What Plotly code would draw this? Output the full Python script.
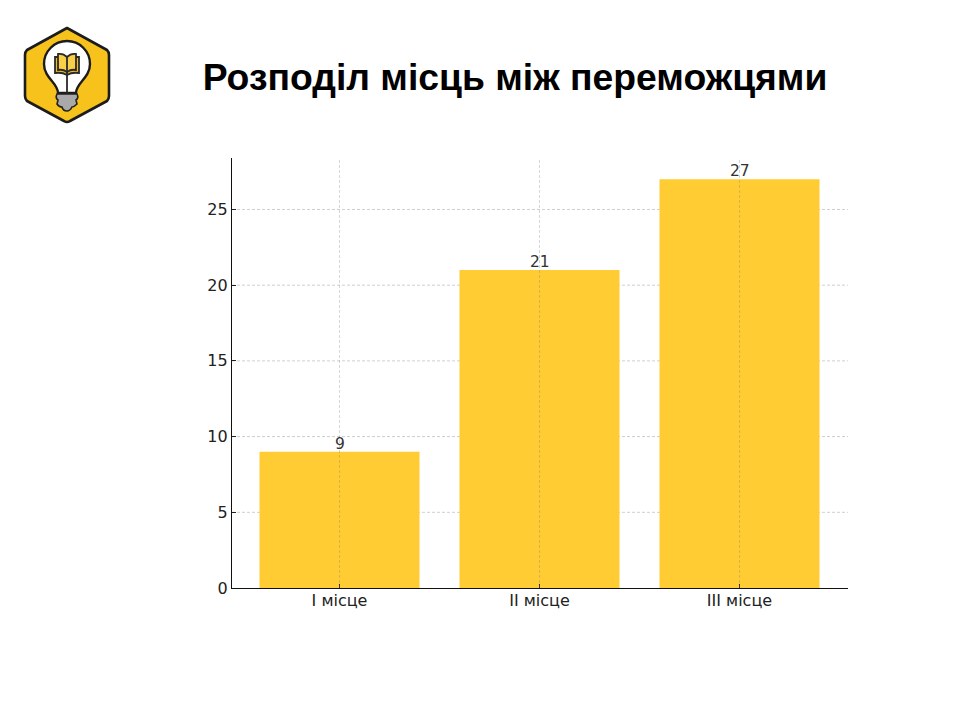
"""
Winners' places bar chart with a logo, rebuilt with Plotly
"""

import base64

import plotly.graph_objects as go

places = ["I місце", "II місце", "III місце"]
winners = [9, 21, 27]
y_ticks = [0, 5, 10, 15, 20, 25]
title_text = "Розподіл місць між переможцями"

W, H = 960, 720
LEFT, RIGHT, TOP, BOTTOM = 232, 848, 158, 588

# logo as inline svg, placed on the page as an image
logo_svg = """<svg xmlns="http://www.w3.org/2000/svg" width="90" height="100" viewBox="0 0 90 100">
<path d="M45 3 L85 25 Q87 27 87 30 L87 71 Q87 74 85 76 L48 96 Q45 98 42 96 L5 76 Q3 74 3 71 L3 30 Q3 27 5 25 Z"
 fill="#f7c21b" stroke="#1c1c1c" stroke-width="2.6" stroke-linejoin="round"/>
<path d="M36 68 C36 58 22 53 22 39 A23 23 0 1 1 68 39 C68 53 54 58 54 68 Z" fill="#ffffff" stroke="#1c1c1c" stroke-width="2.4"/>
<path d="M33 32 L33 48 Q40 47 45 50 Q50 47 57 48 L57 32 Z" fill="#f3bd1c" stroke="#2a2a2a" stroke-width="1.8"/>
<path d="M36 29 Q41 28 45 32 Q49 28 54 29 L54 45 Q49 44 45 47 Q41 44 36 45 Z" fill="#f9cf4a" stroke="#2a2a2a" stroke-width="1.8"/>
<path d="M45 32 L45 68" stroke="#2a2a2a" stroke-width="1.8"/>
<path d="M35 69 L55 69 Q57 73 54 75 L55 79 Q52 82 50 82 Q48 86 45 86 Q41 86 40 82 Q37 82 35 79 L36 75 Q33 73 35 69 Z" fill="#a9a9a9" stroke="#222222" stroke-width="1.6"/>
</svg>"""
logo_uri = "data:image/svg+xml;base64," + base64.b64encode(logo_svg.encode("utf-8")).decode("ascii")

fig = go.Figure()

fig.add_trace(go.Bar(
    x=places,
    y=winners,
    width=0.8,
    marker=dict(color="#ffcc33", line=dict(width=0)),
    showlegend=False,
))

# value labels sit tighter to the bars than textposition="outside" allows
for place, count in zip(places, winners):
    fig.add_annotation(
        x=place,
        y=count,
        text=str(count),
        showarrow=False,
        yanchor="bottom",
        yshift=-3,
        font=dict(family="DejaVu Sans", size=15.5, color="#333333"),
    )

# horizontal grid goes behind the bars, the vertical one shows faintly over them
for tick in y_ticks[1:]:
    fig.add_hline(y=tick, line=dict(color="#cfcfcf", width=1, dash="3px,2px"), layer="below")
for place in places:
    fig.add_vline(x=place, line=dict(color="rgba(120,120,120,0.3)", width=1, dash="3px,2px"), layer="above")

fig.add_layout_image(
    source=logo_uri,
    xref="paper", yref="paper",
    x=(22 - LEFT) / (RIGHT - LEFT),
    y=(BOTTOM - 25) / (BOTTOM - TOP),
    sizex=90 / (RIGHT - LEFT),
    sizey=100 / (BOTTOM - TOP),
    xanchor="left", yanchor="top",
    layer="above",
)

fig.update_layout(
    width=W,
    height=H,
    margin=dict(l=LEFT, r=W - RIGHT, t=TOP, b=H - BOTTOM, autoexpand=False),
    paper_bgcolor="#ffffff",
    plot_bgcolor="#ffffff",
    title=dict(
        text=f"<b>{title_text}</b>",
        font=dict(family="Liberation Sans", size=37.3, color="#000000"),
        x=515 / W,
        xanchor="center",
        y=1 - 77 / H,
        yanchor="middle",
    ),
    xaxis=dict(
        range=[-0.5375, 2.5425],
        tickfont=dict(family="DejaVu Sans", size=16, color="#222222"),
        showgrid=False,
        showline=True,
        linecolor="#111111",
        linewidth=1.2,
        ticks="inside",
        ticklen=4,
        tickcolor="#222222",
        ticklabelstandoff=-2,
        zeroline=False,
    ),
    yaxis=dict(
        range=[0, 28.4],
        tickvals=y_ticks,
        tickfont=dict(family="DejaVu Sans", size=16, color="#222222"),
        showgrid=False,
        showline=True,
        linecolor="#111111",
        linewidth=1.2,
        ticks="inside",
        ticklen=4,
        tickcolor="#222222",
        zeroline=False,
    ),
)

fig.write_html(
    "out.html",
    config=dict(displayModeBar=False),
    post_script="document.body.style.margin = '0';",
)
